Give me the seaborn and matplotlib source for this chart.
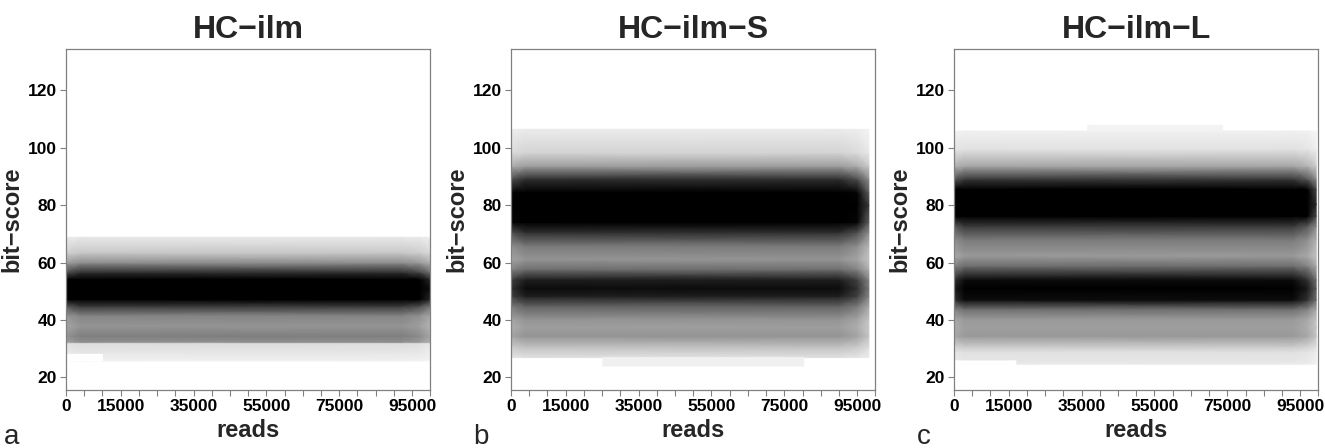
import numpy as np
import seaborn as sns
import matplotlib.pyplot as plt
from matplotlib.ticker import MultipleLocator

# density profiles: darkness (0 white .. >=1 black) vs bit-score
a_score = [25.7, 26.5, 28.7, 31.9, 32.3, 34.4, 37.9, 41.4, 44.8, 47.2, 51.0, 54.1, 56.5, 59.9, 63.4, 68.8]
a_dark = [0.05, 0.07, 0.10, 0.14, 0.44, 0.50, 0.42, 0.48, 0.78, 1.2, 1.35, 1.2, 0.82, 0.45, 0.22, 0.09]
a_reads = [0, 4000, 92000, 97000, 100000]
a_fade = [0.85, 1.0, 1.0, 0.9, 0.7]
a_patches = [(0, 10000, 25.7, 28.0, 0.0)]

b_score = [26.9, 30.9, 34.4, 37.5, 40.2, 44.8, 48.3, 51.0, 54.0, 57.6, 61.1, 65.7,
           70.5, 74.0, 80.0, 84.4, 89.0, 93.6, 98.3, 106.4]
b_dark = [0.12, 0.26, 0.42, 0.38, 0.42, 0.62, 0.88, 0.95, 0.88, 0.57, 0.42, 0.52,
          0.82, 1.15, 1.4, 1.15, 0.82, 0.38, 0.17, 0.08]
b_reads = [0, 4000, 90000, 95000, 98200]
b_fade = [0.85, 1.0, 1.0, 0.85, 0.55]
b_patches = [(25200, 80300, 24.0, 26.9, 0.06)]

c_score = [24.5, 25.2, 28.7, 30.9, 34.4, 37.5, 40.2, 43.7, 47.0, 51.0, 54.0, 58.8,
           62.3, 68.0, 72.7, 76.2, 80.3, 85.5, 89.0, 93.6, 99.4, 105.8]
c_dark = [0.06, 0.1, 0.12, 0.22, 0.40, 0.38, 0.40, 0.57, 0.95, 1.05, 0.95, 0.57,
          0.40, 0.52, 0.78, 1.2, 1.4, 1.2, 0.78, 0.35, 0.12, 0.06]
c_reads = [0, 3000, 93000, 97000, 99400]
c_fade = [0.85, 1.0, 1.0, 0.85, 0.6]
c_patches = [(36700, 73700, 105.8, 107.8, 0.05), (0, 17000, 24.5, 25.7, 0.0)]

titles = ["HC\u2212ilm", "HC\u2212ilm\u2212S", "HC\u2212ilm\u2212L"]
letters = ["a", "b", "c"]
xtick_labels = [0, 15000, 35000, 55000, 75000, 95000]
ytick_labels = [20, 40, 60, 80, 100, 120]

sns.set_theme(style="white")
plt.rcParams["font.family"] = ["Liberation Sans", "DejaVu Sans"]

fig = plt.figure(figsize=(13.25, 4.48), dpi=100)
lefts = [0.0498, 0.3857, 0.72]
letter_x = [0.003, 0.357, 0.692]

panels = [
    (a_reads, a_fade, a_score, a_dark, a_patches),
    (b_reads, b_fade, b_score, b_dark, b_patches),
    (c_reads, c_fade, c_score, c_dark, c_patches),
]

for i, (reads, fade, score, dark, patches) in enumerate(panels):
    ax = fig.add_axes([lefts[i], 0.1295, 0.2750, 0.7612])
    xx, yy = np.meshgrid(reads, score)
    cc = np.outer(dark, fade)
    ax.pcolormesh(xx, yy, cc, cmap="gray_r", vmin=0, vmax=1, shading="gouraud")
    for x0, x1, y0, y1, lev in patches:
        px, py = np.meshgrid([x0, x1], [y0, y1])
        ax.pcolormesh(px, py, np.full((2, 2), lev), cmap="gray_r", vmin=0, vmax=1,
                      shading="gouraud")

    ax.set_xlim(0, 100000)
    ax.set_ylim(15.6, 134.4)
    ax.set_xticks(xtick_labels)
    ax.set_xticklabels([str(v) for v in xtick_labels])
    ax.xaxis.set_minor_locator(MultipleLocator(5000))
    ax.set_yticks(ytick_labels)
    ax.tick_params(axis="both", which="both", direction="out", length=4, width=0.8,
                   color="#808080", bottom=True, left=True, pad=2.5,
                   labelsize=12.5, labelcolor="black")
    for lab in ax.get_xticklabels() + ax.get_yticklabels():
        lab.set_fontweight("bold")
    for sp in ax.spines.values():
        sp.set_color("#808080")
        sp.set_linewidth(0.9)

    ax.set_title(titles[i], fontsize=23, fontweight="bold", pad=8)
    ax.set_xlabel("reads", fontsize=17, fontweight="bold")
    ax.set_ylabel("bit\u2212score", fontsize=17, fontweight="bold")
    ax.xaxis.set_label_coords(0.5, -0.085)
    ax.yaxis.set_label_coords(-0.118, 0.5)

    fig.text(letter_x[i], 0.008, letters[i], fontsize=20, ha="left", va="baseline")

fig.savefig("out.png", dpi=100, facecolor="white")
